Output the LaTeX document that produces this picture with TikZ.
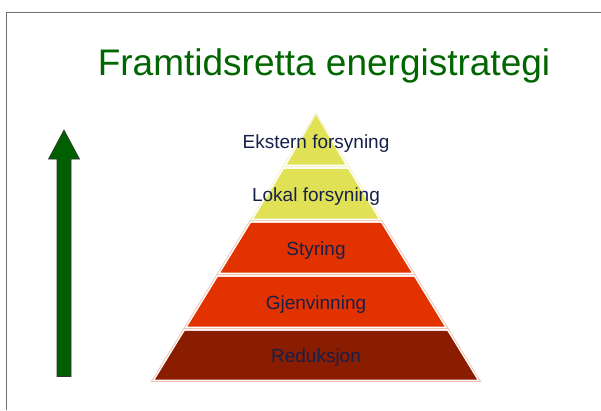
\documentclass[tikz,border=0pt]{standalone}
\usepackage{fontspec}
\setmainfont{Liberation Sans}
\definecolor{titlegreen}{RGB}{0,102,0}
\definecolor{arrowgreen}{RGB}{0,95,0}
\definecolor{tieryellow}{RGB}{225,225,85}
\definecolor{tierred}{RGB}{226,50,0}
\definecolor{tierdark}{RGB}{138,28,0}
\definecolor{outyellow}{RGB}{240,240,190}
\definecolor{outred}{RGB}{240,190,175}
\definecolor{textnavy}{RGB}{22,32,72}
\definecolor{framegray}{RGB}{112,112,112}
\newcommand\mytier[4]{%
  \pgfmathsetmacro\wt{max(0,0.613*(#1-113))}%
  \pgfmathsetmacro\wb{0.613*(#2-113)}%
  \filldraw[fill=white,draw=#4,line width=0.7pt] (316-\wt,#1) -- (316+\wt,#1) -- (316+\wb,#2) -- (316-\wb,#2) -- cycle;
  \pgfmathsetmacro\yi{#1+2}%
  \pgfmathsetmacro\yb{#2-2}%
  \pgfmathsetmacro\wti{max(0,0.613*(\yi-113)-2.35)}%
  \pgfmathsetmacro\wbi{0.613*(\yb-113)-2.35}%
  \fill[#3] (316-\wti,\yi) -- (316+\wti,\yi) -- (316+\wbi,\yb) -- (316-\wbi,\yb) -- cycle;
}
\tikzset{
  tierlabel/.style={text=textnavy,font=\fontsize{19}{22}\selectfont,anchor=base,inner sep=0pt},
  titletext/.style={text=titlegreen,font=\fontsize{37}{42}\selectfont,anchor=base,inner sep=0pt},
}
\begin{document}
\begin{tikzpicture}[x=1pt,y=-1pt]
\useasboundingbox (0,0) rectangle (601,410);
\fill[white] (0,0) rectangle (601,410);
% frame
\draw[framegray,line width=1.3pt] (6.7,410) -- (6.7,12.6) -- (601,12.6);
% title
\node[titletext] (title) at (324,75) {Framtidsretta energistrategi};
% arrow
\filldraw[fill=arrowgreen,draw=black!80,line width=0.6pt]
  (57,376.5) -- (57,159) -- (48.5,159) -- (64,130) -- (79.5,159) -- (71,159) -- (71,376.5) -- cycle;
% pyramid
\mytier{113}{166.5}{tieryellow}{outyellow}
\mytier{166.8}{220.5}{tieryellow}{outyellow}
\mytier{220.8}{274.5}{tierred}{outred}
\mytier{274.8}{328.5}{tierred}{outred}
\mytier{328.8}{381.5}{tierdark}{outred}
% labels
\node[tierlabel] (ekstern) at (316,148.3) {Ekstern forsyning};
\node[tierlabel] (lokal) at (316,201.7) {Lokal forsyning};
\node[tierlabel] (styring) at (316,255.5) {Styring};
\node[tierlabel] (gjenvinning) at (316,309.3) {Gjenvinning};
\node[tierlabel] (reduksjon) at (316,362.7) {Reduksjon};
\end{tikzpicture}
\end{document}
